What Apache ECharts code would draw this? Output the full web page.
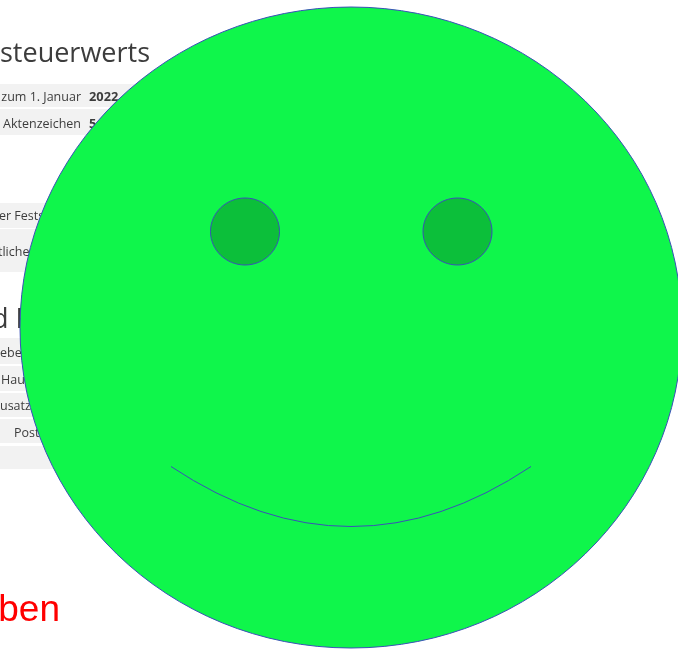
<!DOCTYPE html>
<html><head><meta charset="utf-8">
<style>html,body{margin:0;padding:0;background:#fff}#c{width:678px;height:649px}</style>
<script src="https://cdn.jsdelivr.net/npm/echarts@6/dist/echarts.min.js"></script>
</head><body><div id="c"></div>
<script>
const faceEllipse = [351, 327.5, 331, 320.5];
const leftEye = [245, 231.5, 34.5, 33.5];
const rightEye = [457.5, 231.5, 34.5, 33.5];
const smileCurve = [171, 466.5, 351, 586.5, 531, 466.5];
const ellipses = [faceEllipse, leftEye, rightEye];
const ellipseFills = ['#0ff64b', '#0cbf3a', '#0cbf3a'];
const strokeColor = '#3a50b8';

const rows = [[84,23],[109,26],[203,25],[229,43],[338,26],[366,25],[393,24],[419,24],[446,23]];
const texts = [
  ['steuerwerts', 0, 54, 27, 'normal', 'left'],
  ['zum 1. Januar', 81, 97, 12.5, 'normal', 'right'],
  ['2022', 89, 97, 12.8, 'bold', 'left'],
  ['Aktenzeichen', 81, 124, 12.5, 'normal', 'right'],
  ['5', 89, 124, 12.8, 'bold', 'left'],
  ['er Fests', -1, 216, 12.5, 'normal', 'left'],
  ['tliche', -2, 252, 12.5, 'normal', 'left'],
  ['d F', -8, 320, 27, 'normal', 'left'],
  ['ebe', 0, 353, 12.5, 'normal', 'left'],
  ['Hau', 1, 380, 12.5, 'normal', 'left'],
  ['usatz', 0, 406, 12.5, 'normal', 'left'],
  ['Post', 14, 433, 12.5, 'normal', 'left']
];

const chart = echarts.init(document.getElementById('c'), null, {renderer:'canvas'});
const graphic = [];
rows.forEach(r => graphic.push({type:'rect', silent:true, z:0, shape:{x:0,y:r[0],width:300,height:r[1]}, style:{fill:'#f2f2f2'}}));
texts.forEach(t => graphic.push({type:'text', silent:true, z:1, x:t[1], y:t[2], style:{
  text:t[0], fontFamily:'"Open Sans"', fontSize:t[3], fontWeight:t[4], fill:'#3c3c3c', align:t[5], verticalAlign:'middle'}}));
graphic.push({type:'text', silent:true, z:1, x:60, y:611, style:{
  text:'ben', fontFamily:'"Liberation Sans"', fontSize:37, fill:'#ff0000', align:'right', verticalAlign:'middle'}});

chart.setOption({
  animation:false,
  grid:{left:0,right:0,top:0,bottom:0},
  xAxis:{type:'value',min:0,max:678,show:false},
  yAxis:{type:'value',min:0,max:649,inverse:true,show:false},
  graphic:graphic,
  series:[
    {type:'custom', coordinateSystem:'cartesian2d', clip:false, silent:true, z:2, data:ellipses,
     renderItem:(p,api)=>{
       const c=api.coord([api.value(0),api.value(1)]);
       const s=api.size([api.value(2),api.value(3)]);
       return {type:'ellipse',shape:{cx:c[0],cy:c[1],rx:s[0],ry:s[1]},
         style:{fill:ellipseFills[p.dataIndex],stroke:strokeColor,lineWidth:1}};
     }},
    {type:'custom', coordinateSystem:'cartesian2d', clip:false, silent:true, z:3, data:[smileCurve],
     renderItem:(p,api)=>{
       const a=api.coord([api.value(0),api.value(1)]);
       const b=api.coord([api.value(2),api.value(3)]);
       const d=api.coord([api.value(4),api.value(5)]);
       return {type:'bezierCurve',shape:{x1:a[0],y1:a[1],cpx1:b[0],cpy1:b[1],x2:d[0],y2:d[1]},
         style:{fill:null,stroke:strokeColor,lineWidth:1}};
     }}
  ]
});
</script></body></html>
